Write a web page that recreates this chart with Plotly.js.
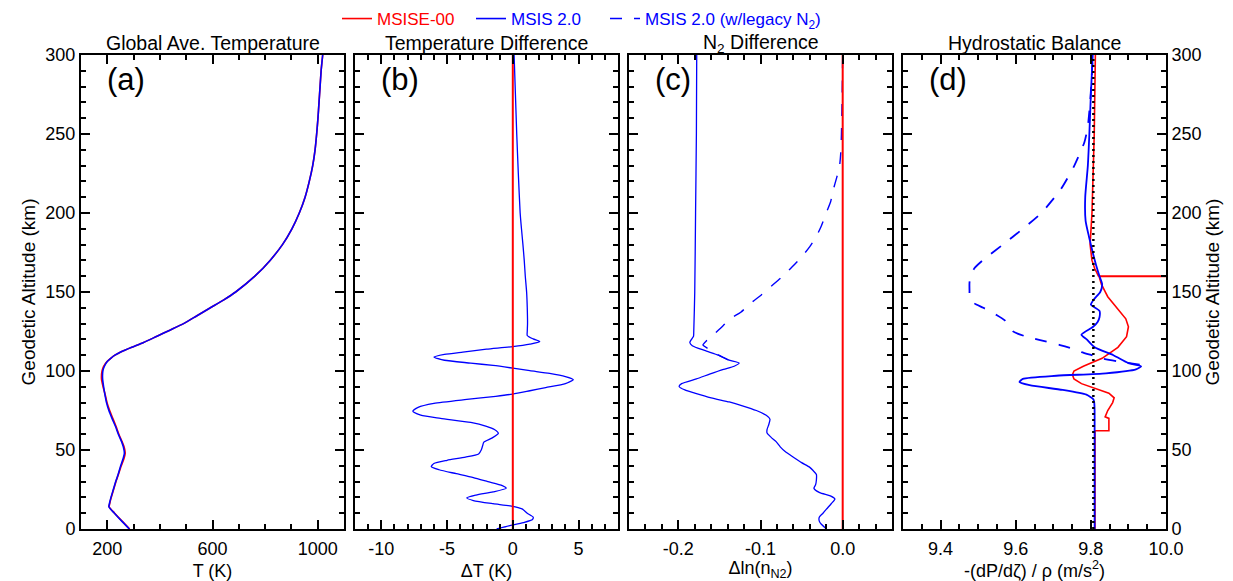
<!DOCTYPE html>
<html><head><meta charset="utf-8">
<script src="https://cdn.plot.ly/plotly-3.0.1.min.js"></script>
<style>html,body{margin:0;padding:0;background:#fff}</style>
</head><body>
<div id="chart" style="width:1233px;height:581px"></div>
<script>
// ---------------- DATA ----------------
// (a) Global average temperature
const altA = [0,5,10,14,16,20,25,30,35,40,45,48,52,55,60,65,70,75,80,85,90,95,100,103,106,108,110,112,115,118,122,126,130,135,140,145,150,160,170,180,190,200,210,220,230,240,250,260,270,280,290,300];
const tempMsis2 = [284,255,227,206,208,214,223,232,242,251,261,265,261,255,242,231,218,206,197,191,186,182,183,189,200,213,229,251,293,338,389,440,490,541,592,643,688,761,819,866,902,930,952,968,981,990,996,1001,1005,1009,1013,1019];
const tempMsise00 = [285,256,228,207,209,215,224,233,243,253,264,268,264,257,244,233,221,209,199,192,184,178,180,186,199,213,229,251,293,338,389,440,490,541,592,643,688,761,819,866,902,930,952,968,981,990,996,1001,1005,1009,1013,1019];

// (b) Temperature difference
const altB = [0,2,4,6,7.5,10,12.7,14.5,16,18,19.7,21.5,23.5,25.8,27.5,30,32.5,35,37.5,39.5,41.5,43.5,45.5,47.5,50,52.5,55,57.5,60.5,63,65,67.5,70,72,74.5,77,79.5,82,84,85.4,87.5,89.5,92,94.6,96.5,98.5,100.2,101.8,103.5,105,106.8,108.8,110.5,112,113.8,115.4,117,118.6,120.3,122.5,125,130,140,150,160,170,180,190,200,225,250,275,300];
const dTMsis2 = [-1.23,-0.3,0.8,1.5,1.55,1.1,0.7,-0.1,-1.5,-3.0,-3.5,-2.8,-1.5,-0.5,-0.8,-1.9,-3.0,-4.3,-5.6,-6.2,-6.0,-5.0,-3.6,-2.6,-2.4,-2.3,-2.2,-1.6,-1.1,-1.4,-2.0,-3.2,-5.5,-7.0,-7.6,-7.2,-6.0,-3.5,-1.3,0,1.3,2.5,4.0,4.6,4.0,2.8,1.3,0,-1.5,-3.2,-5.2,-6.0,-5.2,-3.8,-2.0,0,1.3,2.05,1.55,1.1,1.1,1.12,1.1,1.05,0.95,0.87,0.77,0.66,0.56,0.42,0.3,0.2,0.1];
const altRef = [0,300];
const dTMsise00 = [0,0];

// (c) N2 difference
const altC = [0,3,5,7.5,10,13,16,19,21,23,25.8,28,31,34.5,37,39,42,45.4,49,52,55.3,58,60.7,63,66,69.5,72,75,78,80.4,83,86,88,90.2,92,95,98,101,103,105,107,110,113,116,118,120,122,125,150,200,250,300];
const dlnN2Msis2 = [-0.0196,-0.026,-0.0285,-0.0285,-0.024,-0.019,-0.014,-0.0094,-0.015,-0.028,-0.035,-0.033,-0.032,-0.032,-0.036,-0.040,-0.050,-0.060,-0.070,-0.076,-0.081,-0.087,-0.092,-0.092,-0.090,-0.0885,-0.093,-0.105,-0.122,-0.138,-0.160,-0.180,-0.192,-0.199,-0.196,-0.178,-0.162,-0.145,-0.132,-0.126,-0.139,-0.151,-0.168,-0.183,-0.186,-0.184,-0.1815,-0.1812,-0.180,-0.179,-0.178,-0.1776];
const altCLegacy = [107,110,113,116.5,119,121,124,127.4,133.3,137.2,143.3,148.1,153.6,159,165.6,172.2,178.7,185.3,191.8,200.6,207.1,214.8,222.4,229,237.7,250,270,300];
const dlnN2Legacy = [-0.139,-0.151,-0.160,-0.170,-0.166,-0.161,-0.155,-0.148,-0.136,-0.124,-0.111,-0.099,-0.087,-0.075,-0.062,-0.050,-0.040,-0.032,-0.026,-0.0196,-0.0147,-0.0114,-0.0073,-0.004,-0.0024,-0.0015,-0.0008,0];
const dlnN2Msise00 = [0,0];

// (d) Hydrostatic balance
const altD = [0,20,40,60,75,80,82,85,88,91,93,95,97,98.5,101,103,105,110,115,120,123,128,131,134,138,142,145,150,155,160,167,175,185,195,210,230,250,275,300];
const gMsis2 = [9.81,9.81,9.81,9.81,9.81,9.809,9.807,9.788,9.725,9.637,9.61,9.619,9.708,9.84,9.92,9.934,9.90,9.86,9.81,9.789,9.775,9.806,9.818,9.823,9.823,9.80,9.807,9.825,9.83,9.823,9.814,9.805,9.795,9.786,9.785,9.792,9.796,9.80,9.805];
const altDLegacy = [104,106,108,110,112,114,116.4,119.6,122,124.9,128,132,135.4,140,142.8,146,151,156,160,165,170,180,190,200,215,230,245,255,270,285,300];
const gLegacy = [9.93,9.875,9.83,9.802,9.775,9.753,9.718,9.665,9.625,9.594,9.585,9.571,9.549,9.514,9.49,9.478,9.477,9.477,9.48,9.49,9.512,9.566,9.619,9.668,9.72,9.756,9.783,9.792,9.798,9.802,9.805];
const altDMsise00 = [0,20,40,62.2,62.2,70,71,75,80,83,86,88,90,92,95,97.6,100,103,108,115,121.7,128,133,140.7,147,150.2,155,159.8,160,160.2,165,170,180,200,250,300];
const gMsise00 = [9.811,9.811,9.811,9.811,9.848,9.848,9.838,9.845,9.858,9.862,9.848,9.825,9.80,9.775,9.755,9.751,9.755,9.78,9.83,9.872,9.895,9.90,9.893,9.866,9.845,9.838,9.828,9.822,10.5,9.82,9.81,9.803,9.798,9.803,9.809,9.812];
const gRef = [9.80665,9.80665];

// tick labels
const altTicks = [0,50,100,150,200,250,300];
const tTicks = [200,600,1000], tTickText = ['200','600','1000'];
const dTTicks = [-10,-5,0,5], dTTickText = ['-10','-5','0','5'];
const nTicks = [-0.2,-0.1,0.0], nTickText = ['-0.2','-0.1','0.0'];
const gTicks = [9.4,9.6,9.8,10.0], gTickText = ['9.4','9.6','9.8','10.0'];

// ---------------- STYLE ----------------
const RED = '#ff0000', BLUE = '#0000ff';
const DASH = '12px,12px';
const sp = {shape:'spline', smoothing:0.6};

const traces = [
  // (a)
  {x: tempMsise00, y: altA, xaxis:'x', yaxis:'y', mode:'lines', name:'MSISE-00', legend:'legend',
   line:Object.assign({color:RED, width:1.6}, sp)},
  {x: tempMsis2, y: altA, xaxis:'x', yaxis:'y', mode:'lines', name:'MSIS 2.0', legend:'legend2',
   line:Object.assign({color:BLUE, width:1.6}, sp)},
  // (b)
  {x: dTMsis2, y: altB, xaxis:'x2', yaxis:'y2', mode:'lines', showlegend:false,
   line:Object.assign({color:BLUE, width:1.3}, sp)},
  {x: dTMsise00, y: altRef, xaxis:'x2', yaxis:'y2', mode:'lines', showlegend:false,
   line:{color:RED, width:2}},
  // (c)
  {x: dlnN2Legacy, y: altCLegacy, xaxis:'x3', yaxis:'y3', mode:'lines', name:'MSIS 2.0 (w/legacy N<sub>2</sub>)', legend:'legend3',
   line:Object.assign({color:BLUE, width:1.4, dash:DASH}, sp)},
  {x: dlnN2Msis2, y: altC, xaxis:'x3', yaxis:'y3', mode:'lines', showlegend:false,
   line:Object.assign({color:BLUE, width:1.3}, sp)},
  {x: dlnN2Msise00, y: altRef, xaxis:'x3', yaxis:'y3', mode:'lines', showlegend:false,
   line:{color:RED, width:2}},
  // (d)
  {x: gLegacy, y: altDLegacy, xaxis:'x4', yaxis:'y4', mode:'lines', showlegend:false,
   line:Object.assign({color:BLUE, width:1.8, dash:DASH}, sp)},
  {x: gMsise00, y: altDMsise00, xaxis:'x4', yaxis:'y4', mode:'lines', showlegend:false,
   line:{color:RED, width:1.6}},
  {x: gMsis2, y: altD, xaxis:'x4', yaxis:'y4', mode:'lines', showlegend:false,
   line:Object.assign({color:BLUE, width:1.8}, sp)},
  {x: gRef, y: altRef, xaxis:'x4', yaxis:'y4', mode:'lines', showlegend:false,
   line:{color:'#000', width:2.5, dash:'2px,4px'}}
];

const W = 1233, H = 581;
const M = {l:60, r:60, t:40, b:40};
const PW = W - M.l - M.r, PH = H - M.t - M.b;
function xd(a, b){ return [(a - M.l)/PW, (b - M.l)/PW]; }
const yDom = [(H - M.b - 529)/PH, (H - M.b - 55)/PH];

const FONT = 'Liberation Sans, Arial, Helvetica, sans-serif';
function xAxis(dom, anchor, range, tv, tt, mt0, md, title){
  return {
    domain: dom, anchor: anchor, range: range, fixedrange:true,
    showline:true, linecolor:'#000', linewidth:2, mirror:'ticks',
    ticks:'inside', ticklen:9, tickwidth:2, tickcolor:'#000',
    tickmode:'array', tickvals: tv, ticktext: tt, ticklabelstandoff:2,
    minor:{tickmode:'linear', tick0: mt0, dtick: md, ticks:'inside', ticklen:5, tickwidth:2, tickcolor:'#000', showgrid:false},
    showgrid:false, zeroline:false,
    tickfont:{size:18, color:'#000', family:FONT},
    title:{text:title, font:{size:18, color:'#000', family:FONT}, standoff:7}
  };
}
function yAxis(anchor, showLabels, side, title){
  const ax = {
    domain: yDom, anchor: anchor, range:[0,300], fixedrange:true, side: side,
    showline:true, linecolor:'#000', linewidth:2, mirror:'ticks',
    ticks:'inside', ticklen:9, tickwidth:2, tickcolor:'#000',
    tickmode:'array', tickvals: altTicks, ticktext: altTicks.map(String),
    minor:{tickmode:'linear', tick0:0, dtick:10, ticks:'inside', ticklen:5, tickwidth:2, tickcolor:'#000', showgrid:false},
    showgrid:false, zeroline:false, showticklabels: showLabels,
    tickfont:{size:18, color:'#000', family:FONT}
  };
  if (title) ax.title = {text:title, font:{size:19, color:'#000', family:FONT}, standoff:5};
  return ax;
}

const panelTitles = ['Global Ave. Temperature','Temperature Difference','N<sub>2</sub> Difference','Hydrostatic Balance'];
const panelTags = ['(a)','(b)','(c)','(d)'];
const annotations = [];
['x','x2','x3','x4'].forEach((xa, i) => {
  const ya = 'y' + (i ? (i+1) : '');
  annotations.push({text: panelTitles[i], xref: xa + ' domain', yref: ya + ' domain', x:0.5, y:1, xanchor:'center', yanchor:'middle', yshift:12,
    showarrow:false, font:{size:19.5, color:'#000', family:FONT}});
  annotations.push({text: panelTags[i], xref: xa + ' domain', yref: ya + ' domain', x:0, y:1, xanchor:'left', yanchor:'middle', xshift:24, yshift:-24,
    showarrow:false, font:{size:31, color:'#000', family:FONT}});
});

function legendAt(px, color){
  return {x:(px - M.l)/PW, y:(H - M.b - 1)/PH, xanchor:'left', yanchor:'top', bgcolor:'rgba(0,0,0,0)', borderwidth:0,
    font:{size:17, color: color, family:FONT}, itemwidth:30};
}

const layout = {
  width:W, height:H, margin:Object.assign({autoexpand:false}, M),
  paper_bgcolor:'#fff', plot_bgcolor:'#fff',
  font:{family:FONT, size:18, color:'#000'},
  showlegend:true,
  legend: legendAt(337, RED),
  legend2: legendAt(471, BLUE),
  legend3: legendAt(605, BLUE),
  xaxis: xAxis(xd(81,344), 'y', [100,1100], tTicks, tTickText, 100, 100, 'T (K)'),
  xaxis2: xAxis(xd(355,618), 'y2', [-12,8], dTTicks, dTTickText, -12, 1, 'ΔT (K)'),
  xaxis3: xAxis(xd(629,892), 'y3', [-0.26,0.06], nTicks, nTickText, -0.26, 0.02, 'Δln(n<sub>N2</sub>)'),
  xaxis4: xAxis(xd(903,1166), 'y4', [9.3,10.0], gTicks, gTickText, 9.3, 0.05, '-(dP/dζ) / ρ (m/s<sup>2</sup>)'),
  yaxis: yAxis('x', true, 'left', 'Geodetic Altitude (km)'),
  yaxis2: yAxis('x2', false, 'left', null),
  yaxis3: yAxis('x3', false, 'left', null),
  yaxis4: yAxis('x4', true, 'right', 'Geodetic Altitude (km)'),
  annotations: annotations
};

Plotly.newPlot('chart', traces, layout, {displayModeBar:false, staticPlot:true});
</script>
</body></html>
